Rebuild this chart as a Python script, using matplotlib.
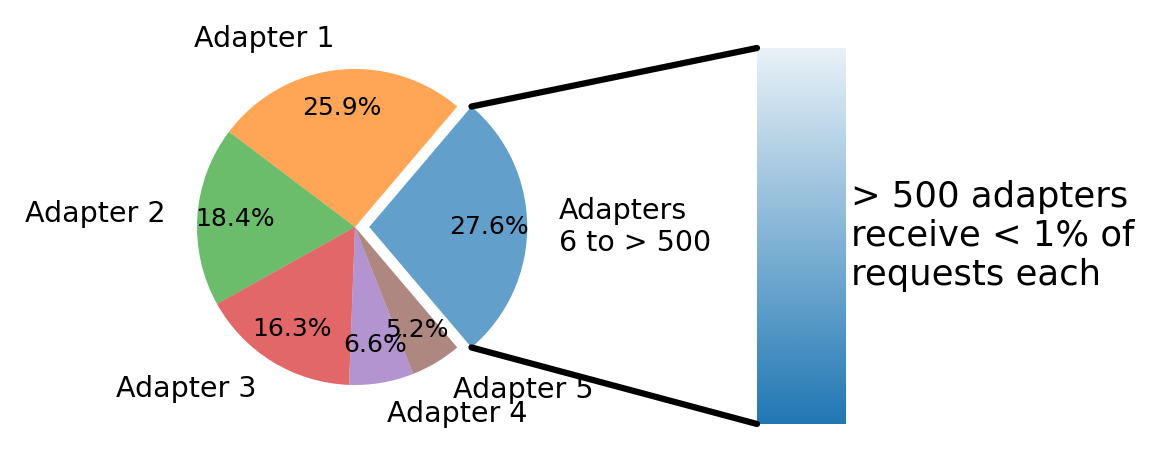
import numpy as np
import matplotlib
matplotlib.use("Agg")
import matplotlib.pyplot as plt
from matplotlib.patches import ConnectionPatch
from matplotlib.colors import LinearSegmentedColormap, to_rgba

# data
labels = ["Adapters\n6 to > 500", "Adapter 1", "Adapter 2", "Adapter 3", "Adapter 4", "Adapter 5"]
shares = [27.6, 25.9, 18.4, 16.3, 6.6, 5.2]
colors = ["tab:blue", "tab:orange", "tab:green", "tab:red", "tab:purple", "tab:brown"]
explode = [0.09, 0, 0, 0, 0, 0]
bar_text = "> 500 adapters\nreceive < 1% of\nrequests each"

W, H, DPI = 1160, 453, 100
fig = plt.figure(figsize=(W / DPI, H / DPI), dpi=DPI)

# pie axes: centre at (355, 227) px, radius 158 px
cx, cy, rpx = 355, 227, 158
ax1 = fig.add_axes([0, 0, 1, 1])
ratios = np.array(shares) / sum(shares)
angle = -180 * ratios[0]
wedges, texts, autotexts = ax1.pie(
    ratios, labels=labels, colors=colors, explode=explode, startangle=angle,
    autopct="%1.1f%%", pctdistance=0.76, labeldistance=1.2,
    wedgeprops=dict(alpha=0.7, linewidth=0),
    textprops=dict(fontsize=20.5))
for t in autotexts:
    t.set_fontsize(18)
ax1.set_xlim(-cx / rpx, (W - cx) / rpx)
ax1.set_ylim((cy - H) / rpx, cy / rpx)
ax1.set_aspect("equal")
ax1.axis("off")

# gradient bar axes
bx0, bx1, by_top, by_bot = 757, 846, 48, 424
ax2 = fig.add_axes([bx0 / W, 1 - by_bot / H, (bx1 - bx0) / W, (by_bot - by_top) / H])
base = to_rgba("tab:blue")
cmap = LinearSegmentedColormap.from_list(
    "fade", [(base[0], base[1], base[2], 1.0), (base[0], base[1], base[2], 0.1)])
grad = np.linspace(0, 1, 256).reshape(-1, 1)
ax2.imshow(grad, cmap=cmap, aspect="auto", extent=(0, 1, 0, 1), origin="lower",
           interpolation="bilinear")
ax2.set_xlim(0, 1)
ax2.set_ylim(0, 1)
ax2.axis("off")
ax2.text(1.06, 0.5, bar_text, transform=ax2.transAxes, ha="left", va="center",
         fontsize=25.5)

# connecting lines
w = wedges[0]
theta1, theta2 = w.theta1, w.theta2
center, r = w.center, w.r
for theta, yb in [(theta2, 1), (theta1, 0)]:
    x = r * np.cos(np.pi / 180 * theta) + center[0]
    y = r * np.sin(np.pi / 180 * theta) + center[1]
    con = ConnectionPatch(xyA=(0, yb), coordsA=ax2.transData,
                          xyB=(x, y), coordsB=ax1.transData,
                          color="black", linewidth=4.5, capstyle="round")
    fig.add_artist(con)

fig.savefig("out.png", dpi=DPI)
